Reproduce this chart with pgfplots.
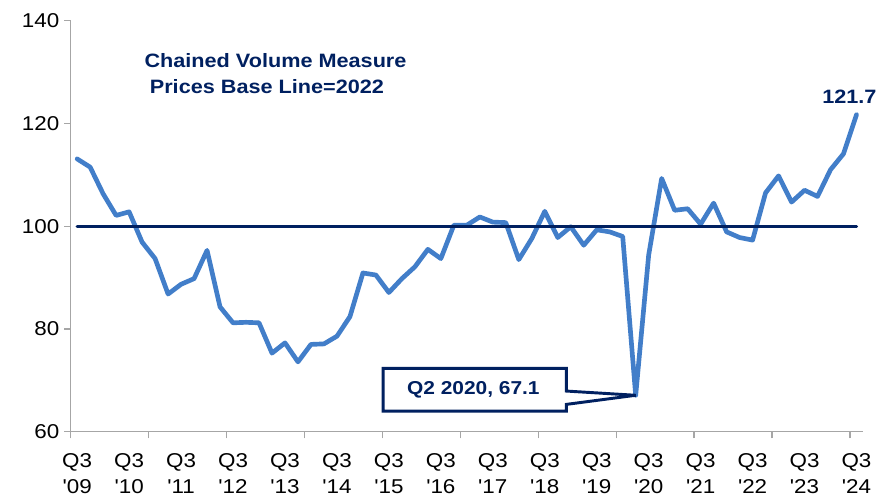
\documentclass[border=0pt]{standalone}
\usepackage{pgfplots}
\pgfplotsset{compat=1.18}
\usepackage{fontspec}
\newfontfamily\chartfont{Liberation Sans}[FakeStretch=1.12]
\definecolor{lineblue}{RGB}{66,126,201}
\definecolor{navy}{RGB}{0,32,96}
\definecolor{axgray}{RGB}{166,166,166}
\pgfplotstableread{
x y
0 113.1
1 111.5
2 106.3
3 102.1
4 102.8
5 96.9
6 93.7
7 86.8
8 88.7
9 89.8
10 95.3
11 84.3
12 81.2
13 81.3
14 81.2
15 75.3
16 77.3
17 73.6
18 77.0
19 77.1
20 78.6
21 82.4
22 90.9
23 90.5
24 87.1
25 89.8
26 92.1
27 95.5
28 93.7
29 100.2
30 100.2
31 101.8
32 100.8
33 100.7
34 93.5
35 97.6
36 102.9
37 97.8
38 99.9
39 96.3
40 99.3
41 98.9
42 98.0
43 67.1
44 94.4
45 109.3
46 103.1
47 103.4
48 100.4
49 104.5
50 98.9
51 97.8
52 97.3
53 106.5
54 109.8
55 104.7
56 107.0
57 105.8
58 111.0
59 114.1
60 121.7
}\gdpdata
\begin{document}
\begin{tikzpicture}
\useasboundingbox (-53.0pt,-49.7pt) rectangle (604.7pt,323.8pt);
\begin{axis}[
  scale only axis,
  width=594.2pt, height=308.3pt,
  xmin=-0.5, xmax=60.5,
  ymin=60, ymax=140,
  axis x line*=bottom,
  axis y line*=left,
  axis line style={draw=axgray, line width=1pt},
  every tick/.style={draw=axgray, line width=1pt},
  tick align=outside,
  ytick={60,80,...,140},
  major tick length=5pt,
  minor tick length=5pt,
  xtick={0,4,...,60},
  xticklabels={{Q3\\'09},{Q3\\'10},{Q3\\'11},{Q3\\'12},{Q3\\'13},{Q3\\'14},{Q3\\'15},{Q3\\'16},{Q3\\'17},{Q3\\'18},{Q3\\'19},{Q3\\'20},{Q3\\'21},{Q3\\'22},{Q3\\'23},{Q3\\'24}},
  major x tick style={draw=none},
  minor xtick={-0.5,5.5,...,59.5},
  xticklabel style={font=\chartfont\fontsize{15}{19.5}\selectfont, align=center, yshift=-7.5pt},
  yticklabel style={font=\chartfont\fontsize{15}{18}\selectfont},
  /pgf/number format/assume math mode=true,
  clip=false,
]
\addplot[lineblue, line width=3.5pt, line join=round, line cap=round] table[x=x,y=y]{\gdpdata};
\addplot[navy, line width=2.5pt, line cap=round] coordinates {(0,100) (60,100)};
\draw[navy, line width=2.2pt, fill=white, line join=miter]
  (axis cs:23.56,72.33) -- (axis cs:37.67,72.33) -- (axis cs:37.67,67.92)
  -- (axis cs:43,67.1) -- (axis cs:37.67,65.33) -- (axis cs:37.67,64.03)
  -- (axis cs:23.56,64.03) -- cycle;
\node[text=navy, font=\chartfont\bfseries\fontsize{14}{17}\selectfont] at (axis cs:30.5,68.17) {Q2 2020, 67.1};
\end{axis}
\node[anchor=base west, inner sep=0pt, text=navy, font=\chartfont\bfseries\fontsize{14.5}{17}\selectfont] at (55.2pt,273.3pt) {Chained Volume Measure};
\node[anchor=base west, inner sep=0pt, text=navy, font=\chartfont\bfseries\fontsize{14.5}{17}\selectfont] at (59.2pt,253.3pt) {Prices Base Line=2022};
\node[anchor=base east, inner sep=0pt, text=navy, font=\chartfont\bfseries\fontsize{14.5}{17}\selectfont] at (604.5pt,246.3pt) {121.7};
\end{tikzpicture}
\end{document}
